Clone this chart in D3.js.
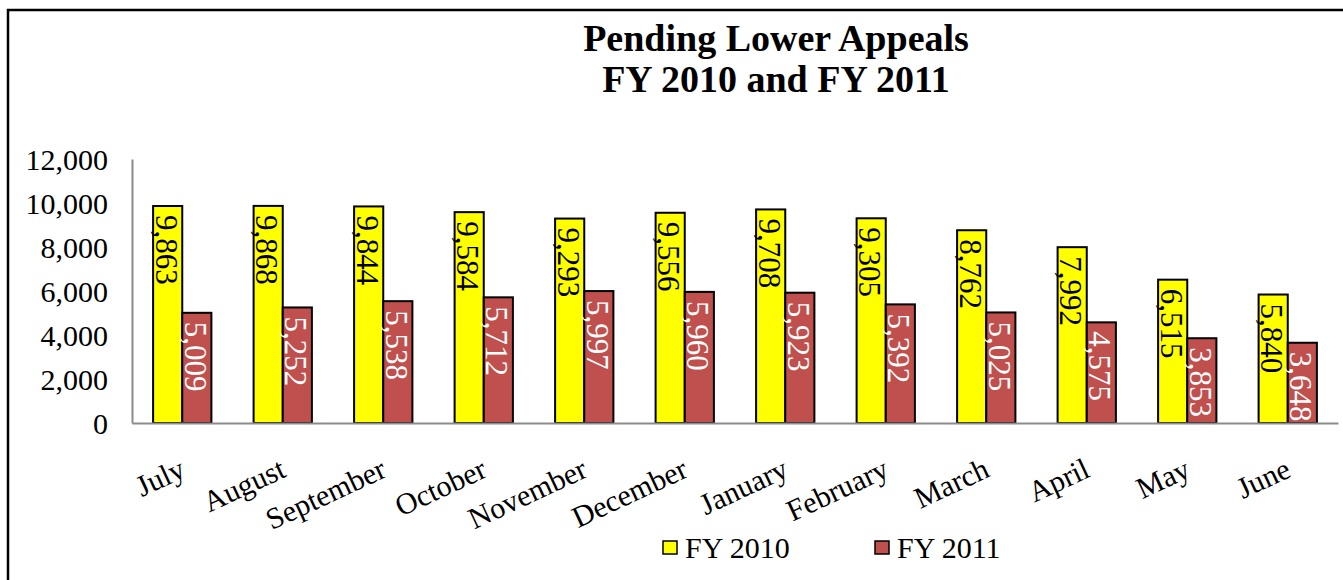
<!DOCTYPE html>
<html>
<head>
<meta charset="utf-8">
<script src="https://cdn.jsdelivr.net/npm/d3@7"></script>
<style>
  html, body { margin: 0; padding: 0; background: #fff; }
  svg { display: block; }
  text { font-family: "Liberation Serif", "Times New Roman", serif; }
</style>
</head>
<body>
<svg id="chart" width="1343" height="580"></svg>
<script>
const months = ["July","August","September","October","November","December","January","February","March","April","May","June"];
const seriesNames = ["FY 2010","FY 2011"];
const fy2010 = [9863, 9868, 9844, 9584, 9293, 9556, 9708, 9305, 8762, 7992, 6515, 5840];
const fy2011 = [5009, 5252, 5538, 5712, 5997, 5960, 5923, 5392, 5025, 4575, 3853, 3648];
const yTicks = [0, 2000, 4000, 6000, 8000, 10000, 12000];
const titleLines = ["Pending Lower Appeals", "FY 2010 and FY 2011"];

const colors = ["#FFFF00", "#C0504D"];
const labelColors = ["#000000", "#FFFFFF"];
const seriesData = [fy2010, fy2011];

const svg = d3.select("#chart");

// outer border
svg.append("rect").attr("x", 8).attr("y", 10).attr("width", 1400).attr("height", 700)
  .attr("fill", "#fff").attr("stroke", "#000").attr("stroke-width", 2.5);

const x0 = 132, x1 = 1338, yTop = 159, yBot = 423;

const x = d3.scaleBand().domain(months).range([x0, x1]).paddingInner(0.42).paddingOuter(0.21);
const xs = d3.scaleBand().domain([0, 1]).range([0, x.bandwidth()]);
const y = d3.scaleLinear().domain([0, 12000]).range([yBot, yTop]);

// title
const title = svg.append("text").attr("text-anchor", "middle").attr("font-weight", "bold")
  .attr("font-size", 38);
title.append("tspan").attr("x", 776).attr("y", 51).text(titleLines[0]);
title.append("tspan").attr("x", 776).attr("y", 92).text(titleLines[1]);

// y axis
const yAxis = d3.axisLeft(y).tickValues(yTicks).tickSize(0).tickPadding(24)
  .tickFormat(d3.format(","));
const yg = svg.append("g").attr("transform", `translate(${x0},0)`).call(yAxis);
yg.select(".domain").attr("stroke", "#8c8c8c").attr("stroke-width", 2);
yg.selectAll("text").attr("font-size", 30).attr("fill", "#000").attr("dy", "0.35em");

// bars
seriesData.forEach((vals, si) => {
  svg.append("g").selectAll("rect").data(months).join("rect")
    .attr("x", m => x(m) + xs(si))
    .attr("y", (m, i) => y(vals[i]))
    .attr("width", xs.bandwidth())
    .attr("height", (m, i) => y(0) - y(vals[i]))
    .attr("fill", colors[si])
    .attr("stroke", "#000").attr("stroke-width", 2);
});

// x axis
const xAxis = d3.axisBottom(x).tickSize(0).tickFormat("");
const xg = svg.append("g").attr("transform", `translate(0,${yBot})`).call(xAxis);
xg.select(".domain").attr("stroke", "#8c8c8c").attr("stroke-width", 2);

// data labels
seriesData.forEach((vals, si) => {
  svg.append("g").selectAll("text").data(months).join("text")
    .attr("transform", (m, i) => {
      const cx = x(m) + xs(si) + xs.bandwidth() / 2 - 1;
      const ty = y(vals[i]) + 9;
      return `translate(${cx},${ty}) rotate(90)`;
    })
    .attr("dy", "0.35em")
    .attr("text-anchor", "start")
    .attr("font-size", 31)
    .attr("fill", labelColors[si])
    .text((m, i) => d3.format(",")(vals[i]));
});

// month labels
svg.append("g").selectAll("text").data(months).join("text")
  .attr("transform", m => `translate(${x(m) + x.bandwidth() / 2 - 4},${yBot + 34}) rotate(-25)`)
  .attr("text-anchor", "end")
  .attr("dy", "0.7em")
  .attr("font-size", 30)
  .attr("fill", "#000")
  .text(m => m);

// legend
const legendX = [663, 875];
seriesNames.forEach((name, si) => {
  svg.append("rect").attr("x", legendX[si]).attr("y", 541).attr("width", 14).attr("height", 13)
    .attr("fill", colors[si]).attr("stroke", "#000").attr("stroke-width", 1.5);
  svg.append("text").attr("x", legendX[si] + 22).attr("y", 558)
    .attr("font-size", 30).attr("fill", "#000").text(name);
});
</script>
</body>
</html>
